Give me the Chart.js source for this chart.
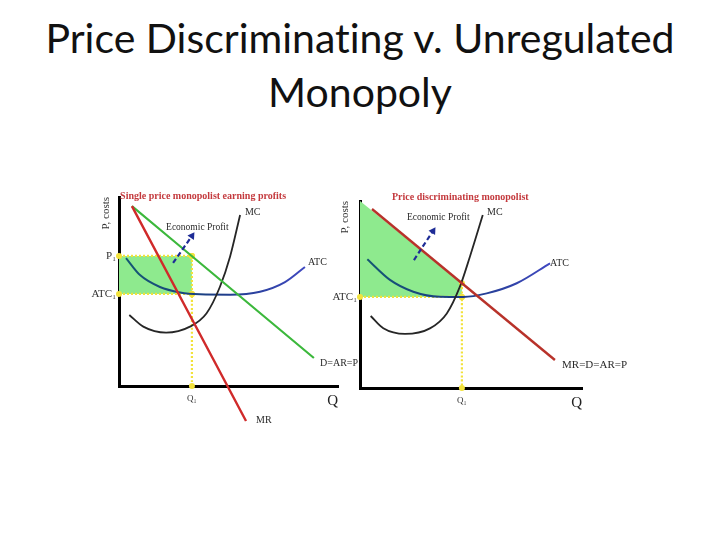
<!DOCTYPE html>
<html><head><meta charset="utf-8">
<script src="https://cdn.jsdelivr.net/npm/chart.js@4.4.1/dist/chart.umd.min.js"></script>
<style>
html,body{margin:0;padding:0;background:#fff;width:720px;height:540px;overflow:hidden;position:relative}
#title{position:absolute;left:0;top:11px;width:720px;text-align:center;font-family:Lato,"Open Sans",sans-serif;font-size:41px;line-height:54px;color:#111;font-variant-ligatures:none;font-feature-settings:"liga" 0}
.wrap{position:absolute}
canvas{display:block}
</style></head><body>
<div id="title">Price Discriminating v. Unregulated<br>Monopoly</div>
<div class="wrap" style="left:60px;top:180px;width:320px;height:260px"><canvas id="cl" width="320" height="260"></canvas></div>
<div class="wrap" style="left:300px;top:180px;width:360px;height:260px"><canvas id="cr" width="360" height="260"></canvas></div>
<script>
// ---------- Left panel: single price monopolist (Q, P pairs) ----------
const singleDemand = [[0.59,9.52],[8.90,1.48]];
const singleMR     = [[0.59,9.52],[5.80,-1.85]];
const singleATC    = [[0.32,6.77],[0.96,5.87],[1.87,5.24],[2.79,4.95],[3.70,4.85],[5.07,4.83],[6.44,4.99],[7.58,5.50],[8.49,6.30]];
const singleMC     = [[0.47,3.76],[1.11,3.14],[2.15,2.82],[3.24,3.14],[4.00,3.85],[4.61,5.25],[5.07,6.84],[5.53,9.05]];
const singleP1 = 6.88, singleATC1 = 4.87, singleQ1 = 3.33;
const singleArrow  = [[2.47,6.51],[3.33,7.94]];
const singleYTickLabels = ['ATC\u2081','P\u2081'];
const singleXTickLabels = ['Q\u2081'];
const singleTexts = ['Single price monopolist earning profits','MC','Economic Profit','ATC','D=AR=P','MR'];

// ---------- Right panel: price discriminating monopolist ----------
const discDemand = [[0.54,9.57],[8.78,1.50]];
const discATC    = [[0.33,6.88],[1.35,5.78],[2.40,5.15],[3.60,4.88],[4.65,4.87],[5.71,5.06],[7.06,5.60],[8.56,6.67]];
const discMC     = [[0.48,3.85],[1.05,3.19],[2.03,2.89],[3.15,3.19],[3.91,3.99],[4.50,5.42],[4.95,7.02],[5.53,9.25]];
const discATC1 = 4.87, discQ1 = 4.59, discPQ1 = 5.60;
const discProfitTop = [[0,10.0],[4.59,5.60]];
const discArrow  = [[2.43,6.84],[3.29,8.40]];
const discYTickLabels = ['ATC\u2081'];
const discXTickLabels = ['Q\u2081'];
const discTexts = ['Price discriminating monopolist','Economic Profit','MC','ATC','MR=D=AR=P'];

const axisTitleY = 'P, costs', axisTitleX = 'Q';

// ---------- helpers ----------
const pts = a => a.map(p => ({x:p[0], y:p[1]}));
const SERIF = '"Liberation Serif","DejaVu Serif",serif';
const YEL = '#f2e23c';

function atcGradient(c){
  const ch = c.chart, a = ch.chartArea;
  if(!a) return '#22408a';
  const g = ch.ctx.createLinearGradient(a.left,0,a.right,0);
  g.addColorStop(0,'#145a72'); g.addColorStop(0.45,'#1c3c86'); g.addColorStop(1,'#4d4dd6');
  return g;
}
function notes(items){
  return {id:'notes', afterDatasetsDraw(chart){
    const {ctx, scales:{x,y}} = chart;
    items.forEach(it=>{
      ctx.save();
      ctx.font = it.font; ctx.fillStyle = it.color || '#2a2a2a';
      ctx.textAlign = 'left'; ctx.textBaseline = 'middle';
      ctx.fillText(it.text, x.getPixelForValue(it.x), y.getPixelForValue(it.y));
      ctx.restore();
    });
  }};
}
function scalesCfg(xVals, xLabels, yVals, yLabels, yTitlePad, yWidth){
  return {
    x:{type:'linear', min:0, max:10,
       grid:{display:false, drawTicks:false},
       border:{display:true, color:'#000', width:3},
       afterBuildTicks:s=>{ s.ticks = xVals.map(v=>({value:v})); },
       afterFit:s=>{ s.height = 24; },
       ticks:{padding:7, color:'#333', autoSkip:false, maxRotation:0, font:{family:SERIF, size:9}, callback:(v,i)=>xLabels[i]},
       title:{display:true, text:axisTitleX, align:'end', color:'#222', padding:0, font:{family:SERIF, size:15}}
    },
    y:{type:'linear', min:0, max:10,
       grid:{display:false, drawTicks:false},
       border:{display:true, color:'#000', width:3},
       afterBuildTicks:s=>{ s.ticks = yVals.map(v=>({value:v})); },
       afterFit:s=>{ s.width = yWidth; },
       ticks:{padding:3, color:'#333', autoSkip:false, font:{family:SERIF, size:11}, callback:(v,i)=>yLabels[i]},
       title:{display:true, text:axisTitleY, align:'end', color:'#333', padding:{top:yTitlePad, bottom:0}, font:{family:SERIF, size:11}}
    }
  };
}
const line = (data, color, width, order, extra) => Object.assign({
  data: pts(data), showLine:true, borderColor:color, borderWidth:width, pointRadius:0,
  fill:false, order:order, cubicInterpolationMode:'monotone'}, extra||{});
const dotted = (data, order) => line(data, YEL, 2.2, order, {borderDash:[2,2], pointRadius:3,
  pointBackgroundColor:YEL, pointBorderWidth:0, clip:false});
const arrow = (data, rot) => line(data, '#1e2c96', 2.2, 0, {borderDash:[5,3], pointStyle:'triangle',
  pointRadius:[0,4.5], pointRotation:[0,rot], pointBackgroundColor:'#1e2c96', pointBorderWidth:0, clip:false});

const common = {responsive:false, animation:false, events:[],
  plugins:{legend:{display:false}, tooltip:{enabled:false}}};

// ---------- left chart ----------
new Chart(document.getElementById('cl'), {
  type:'scatter',
  data:{datasets:[
    line([[0,singleP1],[singleQ1,singleP1]], 'rgba(0,0,0,0)', 0, 9, {fill:{value:singleATC1}, backgroundColor:'#8eea8e'}),
    dotted([[0,singleP1],[singleQ1,singleP1]], 5),
    dotted([[0,singleATC1],[singleQ1,singleATC1]], 5),
    dotted([[singleQ1,singleP1],[singleQ1,singleATC1],[singleQ1,0]], 5),
    line(singleATC, atcGradient, 2, 4),
    line(singleMC, '#262626', 1.8, 3),
    line(singleDemand, '#3cb83c', 2.2, 2),
    line(singleMR, '#d02a2a', 2.4, 1, {clip:false}),
    arrow(singleArrow, 34)
  ]},
  options:Object.assign({}, common, {
    layout:{padding:{left:0, top:17, right:42, bottom:30}},
    scales:scalesCfg([singleQ1], singleXTickLabels, [singleATC1, singleP1], singleYTickLabels, 40, 59)
  }),
  plugins:[notes([
    {text:singleTexts[0], x:0.05, y:10.05, font:'bold 10px '+SERIF, color:'#c43a3e'},
    {text:singleTexts[1], x:5.75, y:9.2,  font:'10px '+SERIF},
    {text:singleTexts[2], x:2.15, y:8.36, font:'9.5px '+SERIF},
    {text:singleTexts[3], x:8.63, y:6.56, font:'10px '+SERIF},
    {text:singleTexts[4], x:9.18, y:1.22, font:'10px '+SERIF},
    {text:singleTexts[5], x:6.26, y:-1.80, font:'10px '+SERIF}
  ])]
});

// ---------- right chart ----------
new Chart(document.getElementById('cr'), {
  type:'scatter',
  data:{datasets:[
    line(discProfitTop, 'rgba(0,0,0,0)', 0, 9, {fill:{value:discATC1}, backgroundColor:'#8eea8e', cubicInterpolationMode:'default', tension:0}),
    dotted([[0,discATC1],[discQ1,discATC1]], 5),
    dotted([[discQ1,discPQ1],[discQ1,discATC1],[discQ1,0]], 5),
    line(discATC, atcGradient, 2, 4),
    line(discMC, '#262626', 1.8, 3),
    line(discDemand, '#b8322a', 2.4, 1),
    arrow(discArrow, 33)
  ]},
  options:Object.assign({}, common, {
    layout:{padding:{left:0, top:21, right:78, bottom:28}},
    scales:scalesCfg([discQ1], discXTickLabels, [discATC1], discYTickLabels, 39, 60)
  }),
  plugins:[notes([
    {text:discTexts[0], x:1.44, y:10.2, font:'bold 10px '+SERIF, color:'#c43a3e'},
    {text:discTexts[1], x:2.12, y:9.14, font:'9.5px '+SERIF},
    {text:discTexts[2], x:5.72, y:9.41, font:'10px '+SERIF},
    {text:discTexts[3], x:8.56, y:6.68, font:'10px '+SERIF},
    {text:discTexts[4], x:9.10, y:1.23, font:'11px '+SERIF}
  ])]
});
</script>
</body></html>
